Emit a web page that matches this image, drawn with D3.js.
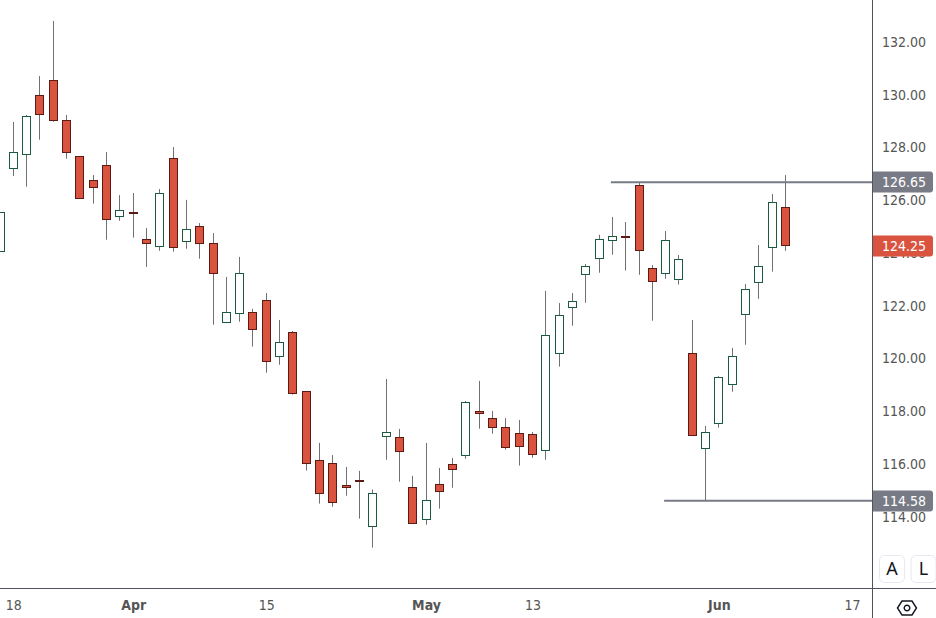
<!DOCTYPE html>
<html>
<head>
<meta charset="utf-8">
<script src="https://cdn.jsdelivr.net/npm/d3@7"></script>
<style>
    html, body { margin: 0; padding: 0; background: #fff; }
    svg { display: block; }
    text { font-family: "DejaVu Sans Condensed", "Noto Sans", sans-serif; }
</style>
</head>
<body>
<svg id="canvas" width="936" height="618"></svg>
<script>
const dates = [
    '03-15','03-18','03-19','03-20','03-21','03-22','03-25','03-26','03-27','03-28',
    '04-01','04-02','04-03','04-04','04-05','04-08','04-09','04-10','04-11','04-12',
    '04-15','04-16','04-17','04-18','04-19','04-22','04-23','04-24','04-25','04-26',
    '04-29','04-30','05-01','05-02','05-03','05-06','05-07','05-08','05-09','05-10',
    '05-13','05-14','05-15','05-16','05-17','05-20','05-21','05-22','05-23','05-24',
    '05-28','05-29','05-30','05-31','06-03','06-04','06-05','06-06','06-07','06-10',
    '06-11','06-12','06-13','06-14','06-17'
];

const open = [
    124.03,127.18,127.71,129.93,130.51,128.99,127.63,126.72,127.29,125.36,
    125.52,124.49,124.22,127.56,124.41,124.98,124.33,121.34,121.68,121.72,
    122.17,120.05,120.96,118.73,116.11,116.00,115.16,115.35,113.61,117.02,
    116.98,115.09,113.88,115.20,115.96,116.30,117.97,117.70,117.36,117.13,
    117.10,116.49,120.17,121.91,123.16,123.77,124.45,124.61,126.53,123.39,
    123.20,122.97,120.17,116.57,117.51,118.99,121.64,122.86,124.18,125.70
];
const high = [
    125.50,128.93,129.20,130.67,132.76,129.20,127.63,126.92,127.79,126.16,
    126.24,124.91,126.39,127.98,125.98,125.10,124.72,123.06,123.82,121.85,
    122.45,121.43,121.01,118.74,116.77,116.31,115.86,115.71,115.00,119.19,
    117.30,115.52,116.77,115.82,116.20,118.36,119.12,117.98,117.71,117.64,
    117.18,122.53,122.07,122.45,123.55,124.66,125.33,125.14,126.65,123.51,
    124.80,123.89,121.43,117.41,119.30,120.37,122.79,124.27,126.20,126.92
];
const low = [
    124.03,126.88,126.48,128.26,128.94,127.54,126.04,125.84,124.47,125.19,
    124.55,123.44,124.05,124.02,124.13,123.75,121.25,121.31,121.36,120.42,
    119.43,119.73,118.60,115.72,114.47,114.35,114.77,113.90,112.80,116.13,
    115.30,113.72,113.67,114.28,115.07,116.17,117.31,117.12,116.51,115.91,
    116.21,116.13,119.66,121.21,122.08,123.22,123.90,123.30,123.14,121.40,
    122.99,122.77,117.05,114.58,117.35,118.71,120.49,122.23,123.26,124.05
];
const close = [
    125.50,127.77,129.15,129.22,128.99,127.78,126.04,126.46,125.24,125.59,
    125.47,124.33,126.23,124.18,124.87,124.33,123.20,121.72,123.20,121.08,
    119.85,120.58,118.65,116.00,114.86,114.52,115.09,115.30,114.86,117.17,
    116.45,113.72,114.60,114.94,115.77,118.31,117.89,117.36,116.60,116.64,
    116.34,120.85,121.60,122.14,123.46,124.49,124.60,124.59,124.07,122.89,
    124.45,123.73,117.06,117.17,119.26,120.05,122.59,123.46,125.89,124.25
];

const price_ticks = [114,116,118,120,122,124,126,128,130,132];
const date_ticks = ['03-18','04-01','04-15','05-01','05-13','06-03','06-17'];
const date_labels = ['18','Apr','15','May','13','Jun','17'];
const month_labels = ['Apr','May','Jun'];

// horizontal levels: price and the candle they start from
const level_prices = [126.65, 114.58];
const level_starts = ['05-21', '05-28'];
const last_price = 124.25;

const plot_width = 872, plot_height = 588, total_width = 936, total_height = 618;
const axis_color = '#50535e', text_color = '#555555', level_color = '#787b86';
const red = '#d9533f', red_dark = '#5b1a14', green_dark = '#1b5a3e', wick_color = '#707070';
const font = '"DejaVu Sans Condensed", "Noto Sans", sans-serif';

const canvas = d3.select('#canvas');

const x_scaler = d3.scalePoint().domain(dates).range([0, 852]);
const y_scaler = d3.scaleLinear().domain([114, 132]).range([516, 41]);

const snap = v => Math.floor(v) + 0.5;

canvas.append('clipPath').attr('id', 'plot-clip')
    .append('rect').attr('width', plot_width).attr('height', plot_height);

const plot = canvas.append('g').attr('clip-path', 'url(#plot-clip)');

const candles = plot.selectAll('g.candle').data(d3.range(open.length))
    .enter().append('g').attr('class', 'candle')
    .attr('transform', i => `translate(${snap(x_scaler(dates[i]))},0)`);

candles.append('line')
    .attr('y1', i => y_scaler(high[i]))
    .attr('y2', i => y_scaler(low[i]))
    .attr('stroke', wick_color)
    .attr('stroke-width', 1);

candles.append('rect')
    .attr('x', -4)
    .attr('width', 8)
    .attr('y', i => snap(y_scaler(Math.max(open[i], close[i]))))
    .attr('height', i => Math.max(1, Math.round(Math.abs(y_scaler(open[i]) - y_scaler(close[i])))))
    .attr('fill', i => close[i] >= open[i] ? '#fff' : red)
    .attr('stroke', i => close[i] >= open[i] ? green_dark : red_dark)
    .attr('stroke-width', 1);

plot.selectAll('line.level').data(level_prices)
    .enter().append('line').attr('class', 'level')
    .attr('x1', (_, i) => x_scaler(level_starts[i]) - 1.5)
    .attr('x2', plot_width)
    .attr('y1', d => y_scaler(d))
    .attr('y2', d => y_scaler(d))
    .attr('stroke', level_color)
    .attr('stroke-width', 2);

// price axis, labels only
const y_axis = canvas.append('g')
    .attr('transform', `translate(${plot_width},0)`)
    .call(d3.axisRight(y_scaler).tickValues(price_ticks).tickSize(0).tickPadding(10).tickFormat(d3.format('.2f')));
y_axis.select('.domain').remove();
y_axis.selectAll('text')
    .attr('dy', '0.38em')
    .style('font-family', font)
    .style('font-size', '14px')
    .attr('fill', text_color);

// date axis, labels only
const x_axis = canvas.append('g')
    .attr('transform', `translate(0,${plot_height})`)
    .call(d3.axisBottom(x_scaler).tickValues(date_ticks).tickSize(0).tickPadding(12)
        .tickFormat(d => date_labels[date_ticks.indexOf(d)]));
x_axis.select('.domain').remove();
x_axis.selectAll('text')
    .style('font-family', font)
    .style('font-size', '14px')
    .style('font-weight', d => month_labels.includes(date_labels[date_ticks.indexOf(d)]) ? 700 : 400)
    .attr('fill', text_color);

// price tags on the axis
const tags = level_prices.map(d => ({ value: d, color: level_color }))
    .concat([{ value: last_price, color: red }]);

const tag_groups = canvas.selectAll('g.tag').data(tags)
    .enter().append('g').attr('class', 'tag')
    .attr('transform', d => `translate(${plot_width},${Math.round(y_scaler(d.value))})`);

tag_groups.append('path')
    .attr('d', 'M0,-10.5 H58 a3,3 0 0 1 3,3 V7.5 a3,3 0 0 1 -3,3 H0 Z')
    .attr('fill', d => d.color);

tag_groups.append('text')
    .attr('x', 10)
    .attr('dy', '0.38em')
    .attr('fill', '#fff')
    .style('font-size', '14px')
    .text(d => d3.format('.2f')(d.value));

// frame
canvas.append('line').attr('x1', snap(plot_width)).attr('x2', snap(plot_width))
    .attr('y1', 0).attr('y2', total_height).attr('stroke', axis_color);
canvas.append('line').attr('x1', 0).attr('x2', total_width)
    .attr('y1', snap(plot_height)).attr('y2', snap(plot_height)).attr('stroke', axis_color);

// A and L buttons
const buttons = canvas.selectAll('g.button').data(['A', 'L'])
    .enter().append('g').attr('class', 'button')
    .attr('transform', (_, i) => `translate(${879 + i * 31.5},555)`);

buttons.append('rect')
    .attr('x', 0.5).attr('y', 0.5)
    .attr('width', 25).attr('height', 27)
    .attr('rx', 5)
    .attr('fill', '#fff')
    .attr('stroke', '#e6e8f0');

buttons.append('text')
    .attr('x', 13).attr('y', 14)
    .attr('dy', '0.36em')
    .attr('text-anchor', 'middle')
    .attr('fill', '#131722')
    .style('font-family', '"Noto Sans", sans-serif')
    .style('font-size', '18px')
    .text(d => d);

// settings icon
const icon = canvas.append('g').attr('transform', 'translate(907,608)')
    .attr('fill', 'none').attr('stroke', '#131722').attr('stroke-width', 1.4);
icon.append('path').attr('d', 'M-9.5,0 L-5,-7 H5 L9.5,0 L5,7 H-5 Z');
icon.append('circle').attr('r', 2.8);
</script>
</body>
</html>
